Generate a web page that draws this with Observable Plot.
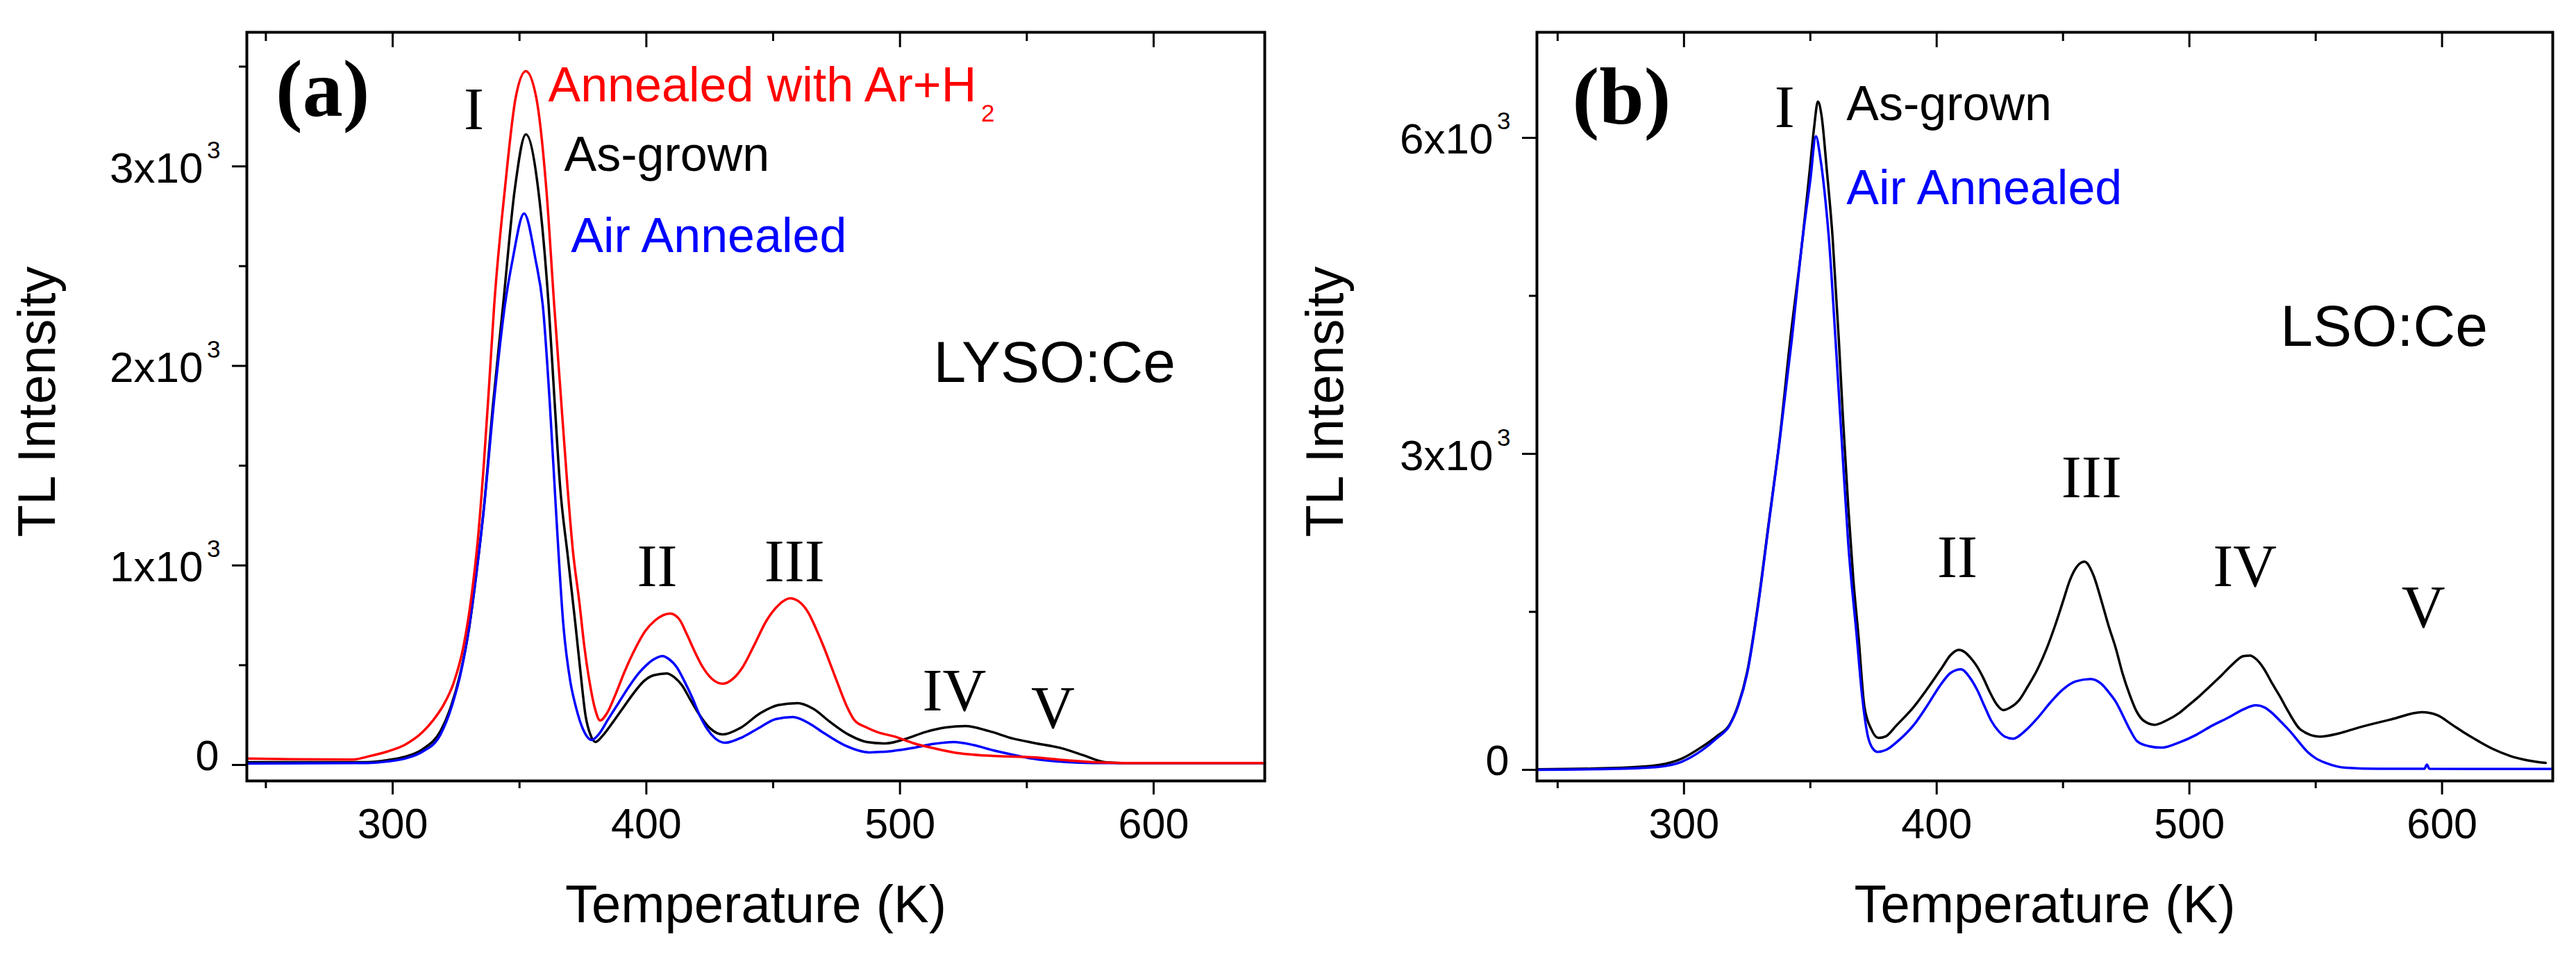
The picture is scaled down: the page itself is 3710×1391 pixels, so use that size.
<!DOCTYPE html>
<html>
<head>
<meta charset="utf-8">
<script src="https://cdn.jsdelivr.net/npm/d3@7"></script>
<script src="https://cdn.jsdelivr.net/npm/@observablehq/plot@0.6"></script>
<style>
  html, body { margin: 0; padding: 0; background: #fff; }
  #wrap { display: flex; width: 3710px; height: 1391px; }
  #wrap > svg { flex: none; }
</style>
</head>
<body>
<div id="wrap"></div>
<script>
// ---------------- DATA ----------------
// Panel (a) LYSO:Ce  — [temperature K, TL intensity]
const lysoAsGrown = [[242.5,14],[290,14],[297.8,24],[304.8,41],[311.8,79],[318.7,167],[323,294],[326.5,450],[330,675],[333,960],[336,1294],[339.5,1800],[343.5,2301],[348.1,2882],[352.5,3160],[357.4,2882],[361.5,2301],[363.7,1850],[366,1396],[369,1050],[372,710],[374,470],[376,250],[378,150],[379.9,115],[383,150],[386,200],[390.5,280],[395,360],[399,420],[403,450],[408,459],[411,440],[414,400],[417,335],[420,270],[425,185],[430.2,153],[437,185],[445,260],[452,300],[459.7,310],[466,280],[472,220],[480,150],[487,115],[494.4,108],[502,130],[510,165],[518,188],[525.9,195],[535,170],[544.7,132],[553,110],[563.6,84],[572,50],[580.8,14],[587,10],[643.8,10]];
const lysoAirAnnealed = [[242.5,7],[290,10],[297.8,17],[304.8,32],[311.8,67],[318.7,149],[323.6,306],[327,470],[330,680],[333,960],[336,1290],[340,1830],[344.2,2301],[347.3,2534],[351.8,2764],[356.3,2534],[359.2,2301],[362,1800],[364.5,1250],[367.3,700],[370,420],[372.2,292],[375,180],[378.5,125],[381,150],[385,230],[389,310],[393,390],[397,460],[400,500],[403,530],[406.4,546],[409,530],[412,490],[415,420],[418,340],[421,250],[424,180],[427,135],[431,111],[438,140],[445,190],[451,230],[457.8,240],[464,210],[470,160],[478,100],[488,63],[497,70],[505,85],[513,105],[521.2,115],[529,100],[536.8,73],[545,50],[552.6,31],[565,15],[576,10],[643.8,10]];
const lysoArH2 = [[242.5,32],[260,29],[284,27],[290.8,44],[297.8,67],[304.8,101],[311.8,165],[316,225],[320,300],[324,410],[328,600],[331,840],[333.5,1120],[336,1520],[338,1900],[340,2300],[344.2,2882],[348.5,3345],[352.5,3477],[356.6,3345],[360.6,2882],[363.7,2301],[366,1900],[368.9,1396],[371,1080],[373.6,815],[375.5,600],[377.7,410],[379.8,280],[381.8,223],[384.5,260],[387.8,352],[391.5,470],[395.7,585],[399.5,670],[403.4,724],[409.4,759],[413,730],[416,654],[419,570],[422.2,491],[426,430],[430.2,407],[434,430],[438,491],[442.5,600],[447.4,724],[452,800],[456.7,835],[461,810],[464,760],[467,680],[470,590],[473,490],[476,390],[479,295],[482,225],[486.8,188],[491,165],[497.7,143],[505.6,108],[513,85],[521.2,63],[536.8,45],[552.6,38],[565,24],[576,14],[588.8,10],[643.8,10]];

// Panel (b) LSO:Ce
const lsoAsGrown = [[241.8,5],[273,18],[290,47],[299,105],[307,217],[313,320],[318,428],[321.5,620],[325,929],[329.4,1588],[333.6,2358],[337.8,3129],[342,4071],[347,5059],[350,5750],[351.5,6100],[353,6344],[354.5,6200],[356.5,5700],[358.8,5059],[361.3,4071],[362.9,3346],[365,2500],[367,1812],[369.1,1258],[371.4,600],[374.2,382],[376.9,303],[380,320],[384,420],[391,600],[396,760],[402.2,975],[405.5,1090],[408.8,1140],[411,1120],[413.5,1061],[416,980],[418.5,870],[421,740],[423.5,630],[426.4,567],[429,590],[432.6,661],[436,790],[440,960],[443.5,1150],[447,1380],[450,1600],[452.7,1800],[455.5,1930],[458.5,1976],[462,1850],[465.4,1588],[468,1370],[470.9,1153],[473.5,920],[476.4,711],[479,560],[482,465],[486.3,428],[491,470],[496,540],[500,620],[504,700],[508,790],[512,880],[517,1000],[521.4,1080],[524,1085],[526.5,1050],[529.5,960],[532.7,823],[536,690],[539,560],[544,382],[551.6,316],[559,345],[567,402],[580,480],[592,547],[598,520],[604,428],[609,350],[614.6,270],[620,200],[627,132],[634,90],[641,66]];
const lsoAirAnnealed = [[241.8,0],[273,10],[290,29],[299,76],[307,184],[313,300],[318,420],[321.5,610],[325,915],[329.4,1570],[333.6,2340],[337.8,3110],[342.6,4071],[347,5059],[350,5600],[352.2,6014],[354,5800],[356,5400],[357.3,5059],[360,4071],[362.5,3100],[365,2150],[368.4,1258],[370.5,700],[372.8,316],[374.5,210],[376.6,171],[380,190],[384,260],[391,428],[396,600],[402,823],[405.5,920],[409.6,955],[413,880],[416,760],[419,600],[421.5,470],[424.7,362],[427,315],[430.2,296],[435,370],[440,494],[445,640],[449.7,758],[455,840],[461,863],[465,820],[468,740],[470.9,646],[474,500],[476.5,380],[479.4,270],[484,225],[489,211],[496,260],[503,336],[509,420],[515.7,500],[521,570],[526.4,613],[530,590],[533,534],[536.5,450],[540,362],[543.5,260],[547,165],[550,110],[554,66],[562,20],[575,10],[593,10],[594,50],[595,10],[643.8,8]];

// Axes
const xMajorTicks = [300, 400, 500, 600];
const xMinorTicks = [250, 350, 450, 550];
const yMajorTicksA = [0, 1000, 2000, 3000];
const yMinorTicksA = [500, 1500, 2500, 3500];
const yTickMainA = ["0", "1x10", "2x10", "3x10"];
const yTickSupA = ["", "3", "3", "3"];
const yMajorTicksB = [0, 3000, 6000];
const yMinorTicksB = [1500, 4500];
const yTickMainB = ["0", "3x10", "6x10"];
const yTickSupB = ["", "3", "3"];
const xTitle = "Temperature (K)";
const yTitle = "TL Intensity";

// Annotations (data coordinates: temperature, intensity at text baseline)
const legendA = [
  {x: 361.3, y: 3324, text: "Annealed with Ar+H", color: "#ff0000"},
  {x: 367.6, y: 2979, text: "As-grown", color: "#000000"},
  {x: 370.3, y: 2572, text: "Air Annealed", color: "#0000ff"}
];
const subscriptA = [{x: 532, y: 3226, text: "2", color: "#ff0000"}];
const legendB = [
  {x: 364.3, y: 6171, text: "As-grown", color: "#000000"},
  {x: 364.3, y: 5373, text: "Air Annealed", color: "#0000ff"}
];
const sampleA = [{x: 513.2, y: 1918, text: "LYSO:Ce"}];
const sampleB = [{x: 536, y: 4028, text: "LSO:Ce"}];
const peaksA = [
  {x: 332, y: 3188, text: "I"}, {x: 404.3, y: 898, text: "II"}, {x: 458.4, y: 919, text: "III"},
  {x: 521.4, y: 275, text: "IV"}, {x: 560.3, y: 188, text: "V"}
];
const peaksB = [
  {x: 339.8, y: 6105, text: "I"}, {x: 408.2, y: 1833, text: "II"}, {x: 461.3, y: 2591, text: "III"},
  {x: 522, y: 1747, text: "IV"}, {x: 592.6, y: 1358, text: "V"}
];
const letterA = [{x: 272.4, y: 3251, text: "(a)"}];
const letterB = [{x: 275.3, y: 6132, text: "(b)"}];

// ---------------- DRAWING ----------------
const SANS = "'Liberation Sans', Arial, sans-serif";
const SERIF = "'Liberation Serif', 'Times New Roman', serif";

function panel(cfg) {
  const yRows = cfg.yMajor.map((v, i) => ({v, main: cfg.yMain[i], sup: cfg.ySup[i]}));
  const lineOpts = (color) => ({x: d => d[0], y: d => d[1], stroke: color, strokeWidth: 3.5, curve: "monotone-x"});
  return Plot.plot({
    width: 1855,
    height: 1391,
    marginLeft: cfg.marginLeft,
    marginRight: 34,
    marginTop: 46,
    marginBottom: 267,
    style: {fontFamily: SANS, background: "white", color: "black"},
    x: {domain: cfg.xDomain, axis: null},
    y: {domain: cfg.yDomain, axis: null},
    color: {type: "identity"},
    marks: [
      ...cfg.series.map(([data, color]) => Plot.line(data, lineOpts(color))),
      // ticks
      Plot.axisX(xMajorTicks, {anchor: "bottom", tickSize: 20, tickPadding: 19, strokeWidth: 3, fontSize: 61, fill: "black", tickFormat: d => String(d), label: null}),
      Plot.axisX(xMinorTicks, {anchor: "bottom", tickSize: 11, strokeWidth: 3, fill: "none", label: null}),
      Plot.axisX(xMajorTicks, {anchor: "top", tickSize: 21, dy: 21, strokeWidth: 3, fill: "none", label: null}),
      Plot.axisX(xMinorTicks, {anchor: "top", tickSize: 12, dy: 12, strokeWidth: 3, fill: "none", label: null}),
      Plot.axisY(cfg.yMajor, {anchor: "left", tickSize: 21, strokeWidth: 3, fill: "none", label: null}),
      Plot.axisY(cfg.yMinor, {anchor: "left", tickSize: 11, strokeWidth: 3, fill: "none", label: null}),
      // y tick labels with superscript exponent
      Plot.text(yRows.filter(d => d.sup === ""), {y: "v", text: "main", frameAnchor: "left", textAnchor: "end", lineAnchor: "bottom", dx: -40, dy: 7, fontSize: 61, fill: "black"}),
      Plot.text(yRows.filter(d => d.sup !== ""), {y: "v", text: "main", frameAnchor: "left", textAnchor: "end", lineAnchor: "bottom", dx: -63, dy: 23, fontSize: 62, fill: "black"}),
      Plot.text(yRows.filter(d => d.sup !== ""), {y: "v", text: "sup", frameAnchor: "left", textAnchor: "end", lineAnchor: "bottom", dx: -38, dy: -12, fontSize: 35, fill: "black"}),
      // axis titles
      Plot.text([xTitle], {text: d => d, frameAnchor: "bottom", textAnchor: "middle", lineAnchor: "bottom", dy: 203, fontSize: 76, fill: "black"}),
      Plot.text([yTitle], {text: d => d, frameAnchor: "left", rotate: -90, textAnchor: "middle", lineAnchor: "bottom", dx: cfg.yTitleDx, dy: -7, fontSize: 76, fill: "black"}),
      // annotations
      Plot.text(cfg.legend, {x: "x", y: "y", text: "text", fill: "color", textAnchor: "start", lineAnchor: "bottom", fontSize: 70}),
      Plot.text(cfg.subscript, {x: "x", y: "y", text: "text", fill: "color", textAnchor: "start", lineAnchor: "bottom", fontSize: 35}),
      Plot.text(cfg.sample, {x: "x", y: "y", text: "text", fill: "black", textAnchor: "start", lineAnchor: "bottom", fontSize: 84}),
      Plot.text(cfg.peaks, {x: "x", y: "y", text: "text", fill: "black", textAnchor: "middle", lineAnchor: "bottom", fontSize: 87, fontFamily: SERIF}),
      Plot.text(cfg.letter, {x: "x", y: "y", text: "text", fill: "black", textAnchor: "middle", lineAnchor: "bottom", fontSize: 116, fontWeight: "bold", fontFamily: SERIF}),
      Plot.frame({stroke: "black", strokeWidth: 4})
    ]
  });
}

const wrap = document.getElementById("wrap");
wrap.appendChild(panel({
  marginLeft: 355,
  xDomain: [242.5, 643.8],
  yDomain: [-80, 3672],
  series: [[lysoAsGrown, "#000000"], [lysoAirAnnealed, "#0000ff"], [lysoArH2, "#ff0000"]],
  yMajor: yMajorTicksA, yMinor: yMinorTicksA, yMain: yTickMainA, ySup: yTickSupA,
  yTitleDx: -277,
  legend: legendA, subscript: subscriptA, sample: sampleA, peaks: peaksA, letter: letterA
}));
wrap.appendChild(panel({
  marginLeft: 358,
  xDomain: [241.8, 643.8],
  yDomain: [-105, 7002],
  series: [[lsoAsGrown, "#000000"], [lsoAirAnnealed, "#0000ff"]],
  yMajor: yMajorTicksB, yMinor: yMinorTicksB, yMain: yTickMainB, ySup: yTickSupB,
  yTitleDx: -280,
  legend: legendB, subscript: [], sample: sampleB, peaks: peaksB, letter: letterB
}));
</script>
</body>
</html>
